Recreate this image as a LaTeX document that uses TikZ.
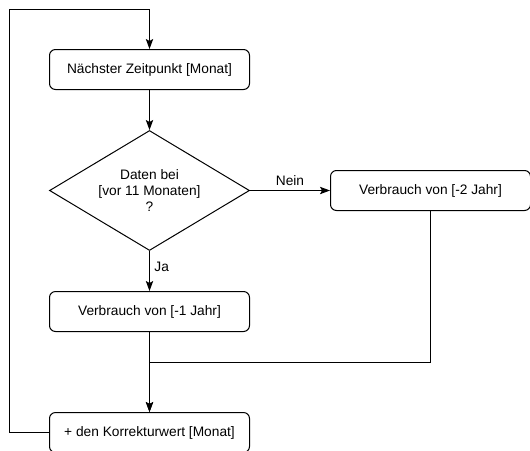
\documentclass[tikz,border=0pt]{standalone}
\usepackage{fontspec}
\setmainfont{Liberation Sans}
\usetikzlibrary{positioning,shapes.geometric,arrows.meta}

\begin{document}
\begin{tikzpicture}[x=0.75pt, y=-0.75pt, line width=0.75pt,
 >={Stealth[length=7.5pt,width=5.5pt,inset=1.5pt]},
 font=\fontsize{10.3}{11.8}\selectfont,
 box/.style={draw, rounded corners=4.5pt, minimum width=150pt, minimum height=30pt, align=center},
 decision/.style={draw, diamond, aspect=1.67, inner sep=0pt, minimum width=150pt, minimum height=90pt, align=center}]
 \useasboundingbox (0,0) rectangle (530,450);

 \node (next) [box] at (149.5,69.5) {Nächster Zeitpunkt [Monat]};
 \node (check) [decision, below=30pt of next] {Daten bei\\{}[vor 11 Monaten]\\?};
 \node (prev1) [box, below=30pt of check] {Verbrauch von [-1 Jahr]};
 \node (prev2) [box, right=60pt of check] {Verbrauch von [-2 Jahr]};
 \node (korr) [box, below=60pt of prev1] {+ den Korrekturwert [Monat]};
 \coordinate (corner) at (9.5,9.5);
 \coordinate [below=22.5pt of prev1.south] (merge);

 \path [->] (next) edge (check);
 \path [->] (check) edge node[right, pos=0.4]{Ja} (prev1);
 \path [->] (check) edge node[above]{Nein} (prev2);
 \path [->] (prev1) edge (korr);
 \draw [->] (prev2.south) |- (merge) -- (korr.north);
 \draw [->] (korr.west) -| (corner) -| (next.north);
\end{tikzpicture}
\end{document}
